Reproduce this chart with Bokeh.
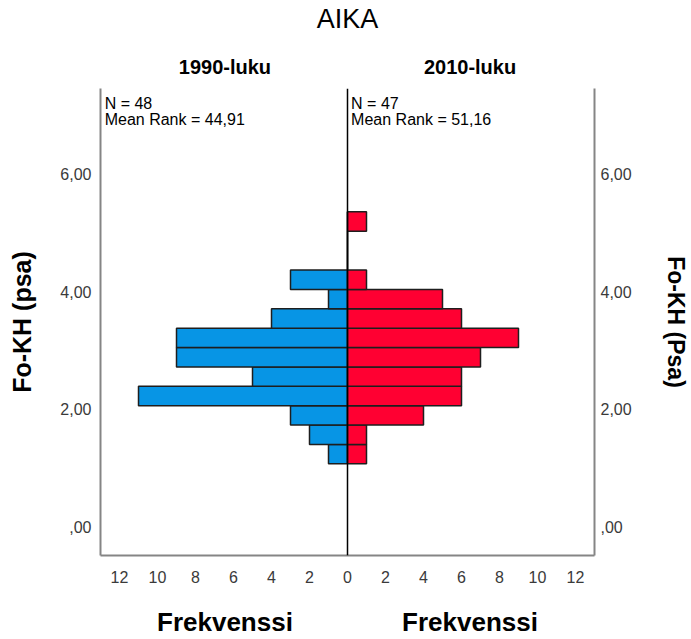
from bokeh.plotting import figure
from bokeh.models import LinearAxis, FixedTicker, Span, Label, Range1d, ColumnDataSource
from bokeh.embed import file_html
from bokeh.resources import INLINE

# ---- data ----
bin_start = [1.07, 1.40, 1.73, 2.06, 2.39, 2.72, 3.05, 3.38, 3.71, 4.04, 4.37, 4.70, 5.03]
bin_width = 0.33
counts_1990 = [1, 2, 3, 11, 5, 9, 9, 4, 1, 3, 0, 0, 0]
counts_2010 = [1, 1, 4, 6, 6, 7, 9, 6, 5, 1, 0, 0, 1]
group_names = ["1990-luku", "2010-luku"]
group_n = [48, 47]
group_mean_rank = ["44,91", "51,16"]
y_ticks = [0, 2, 4, 6]
y_tick_labels = [",00", "2,00", "4,00", "6,00"]
x_ticks = [-12, -10, -8, -6, -4, -2, 0, 2, 4, 6, 8, 10, 12]
x_tick_labels = ["12", "10", "8", "6", "4", "2", "0", "2", "4", "6", "8", "10", "12"]
chart_title = "AIKA"
x_title = "Frekvenssi"
y_title_left = "Fo-KH (psa)"
y_title_right = "Fo-KH (Psa)"

FONT = "Liberation Sans"
BLUE = "#0795E5"
RED = "#FF0032"
FRAME_GRAY = "#858585"
TICK_COLOR = "#3a3a3a"

centers = [s + bin_width / 2 for s in bin_start]
src_a = ColumnDataSource(dict(y=centers, left=[-c for c in counts_1990], right=[0] * len(counts_1990)))
src_b = ColumnDataSource(dict(y=centers, left=[0] * len(counts_2010), right=counts_2010))

p = figure(width=691, height=639, output_backend="svg", toolbar_location=None,
           x_range=Range1d(-13, 13), y_range=Range1d(-0.49, 7.46),
           x_axis_location=None, y_axis_location=None,
           min_border_left=100, min_border_right=94, min_border_top=86, min_border_bottom=83)
p.outline_line_color = None
p.background_fill_color = "white"
p.border_fill_color = "white"

p.hbar(y="y", left="left", right="right", height=bin_width, source=src_a,
       fill_color=BLUE, line_color="#1e1e1e", line_width=1.5)
p.hbar(y="y", left="left", right="right", height=bin_width, source=src_b,
       fill_color=RED, line_color="#1e1e1e", line_width=1.5)

p.add_layout(Span(location=0, dimension="height", line_color="black", line_width=1.5))


def style_axis(ax, size="16px"):
    ax.major_tick_line_color = None
    ax.minor_tick_line_color = None
    ax.major_tick_out = 0
    ax.major_tick_in = 0
    ax.major_label_text_font = FONT
    ax.major_label_text_font_size = size
    ax.major_label_text_color = TICK_COLOR
    ax.axis_line_color = FRAME_GRAY
    ax.axis_line_width = 2
    ax.axis_label_text_font = FONT
    ax.axis_label_text_color = "black"


# left axis
yl = LinearAxis(ticker=FixedTicker(ticks=y_ticks),
                major_label_overrides=dict(zip(y_ticks, y_tick_labels)),
                axis_label=y_title_left)
style_axis(yl)
yl.major_label_standoff = 9
yl.axis_label_text_font_style = "bold"
yl.axis_label_text_font_size = "25px"
yl.axis_label_standoff = 21
p.add_layout(yl, "left")

# right axis
yr = LinearAxis(ticker=FixedTicker(ticks=y_ticks),
                major_label_overrides=dict(zip(y_ticks, y_tick_labels)),
                axis_label=y_title_right)
style_axis(yr)
yr.major_label_standoff = 6
yr.axis_label_text_font_style = "bold"
yr.axis_label_text_font_size = "23px"
yr.axis_label_standoff = 28
p.add_layout(yr, "right")

# bottom numeric axis
xb = LinearAxis(ticker=FixedTicker(ticks=x_ticks),
                major_label_overrides=dict(zip(x_ticks, x_tick_labels)))
style_axis(xb)
xb.major_label_standoff = 15
p.add_layout(xb, "below")

# bottom "Frekvenssi" labels, one per panel
panel_centers = [-6.45, 6.45]
xf = LinearAxis(ticker=FixedTicker(ticks=panel_centers),
                major_label_overrides={panel_centers[0]: x_title, panel_centers[1]: x_title})
style_axis(xf, "26px")
xf.axis_line_color = None
xf.major_label_text_color = "black"
xf.major_label_text_font_style = "bold"
xf.major_label_standoff = 21
p.add_layout(xf, "below")

# top: panel titles as tick labels, chart title as the axis label
xt = LinearAxis(ticker=FixedTicker(ticks=panel_centers),
                major_label_overrides={panel_centers[0]: group_names[0], panel_centers[1]: group_names[1]},
                axis_label=chart_title)
style_axis(xt, "20px")
xt.axis_line_color = None
xt.major_label_text_color = "black"
xt.major_label_text_font_style = "bold"
xt.major_label_standoff = 11
xt.axis_label_text_font_style = "normal"
xt.axis_label_text_font_size = "27px"
xt.axis_label_standoff = 19
p.add_layout(xt, "above")

# statistics text inside each panel
stat_x = [-12.78, 0.19]
for i in range(2):
    p.add_layout(Label(x=stat_x[i], y=7.21, text=f"N = {group_n[i]}",
                       text_font=FONT, text_font_size="16px", text_color="black",
                       text_baseline="alphabetic"))
    p.add_layout(Label(x=stat_x[i], y=6.94, text=f"Mean Rank = {group_mean_rank[i]}",
                       text_font=FONT, text_font_size="16px", text_color="black",
                       text_baseline="alphabetic"))

p.xgrid.visible = False
p.ygrid.visible = False

open("out.html", "w").write(file_html(p, INLINE))
